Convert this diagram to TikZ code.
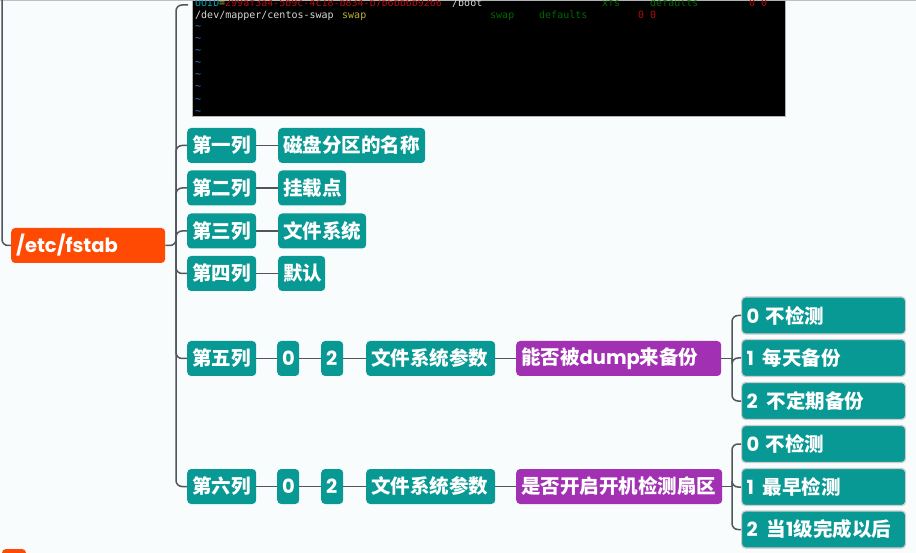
\documentclass[tikz,border=0pt]{standalone}
\usepackage{fontspec}
\setmainfont{Poppins}
\newfontfamily\zhfont{Noto Sans CJK SC}
\newfontfamily\termfont{DejaVu Sans Mono}
\usetikzlibrary{positioning}
\definecolor{mapbg}{RGB}{249,252,253}
\definecolor{fstabred}{RGB}{254,74,2}
\definecolor{colteal}{RGB}{8,153,148}
\definecolor{askpurple}{RGB}{161,48,178}
\definecolor{linegray}{RGB}{80,86,92}
\definecolor{termcyan}{RGB}{0,160,170}
\definecolor{termred}{RGB}{175,12,12}
\definecolor{termgreen}{RGB}{0,105,0}
\definecolor{termyellow}{RGB}{190,180,50}
\definecolor{termwhite}{RGB}{215,215,215}
\definecolor{termblue}{RGB}{45,120,205}
\newcommand{\zh}[1]{{\zhfont #1}}
\tikzset{
  box/.style={rectangle, rounded corners=4pt, anchor=west, minimum height=35pt, inner xsep=5pt, inner ysep=0pt, align=left, text=white, font=\fontsize{19.5}{22}\selectfont\bfseries},
  rootbox/.style={box, fill=fstabred},
  colbox/.style={box, fill=colteal},
  askbox/.style={box, fill=askpurple},
  ansbox/.style={box, fill=colteal, draw=gray!40, line width=1.2pt, minimum height=37pt},
  conn/.style={draw=linegray, line width=1.5pt, rounded corners=6pt},
  tt/.style={font=\termfont\fontsize{10}{12}\selectfont, inner sep=0pt, anchor=base west},
}

\begin{document}
\begin{tikzpicture}[x=1pt, y=-1pt]
  \useasboundingbox (0,0) rectangle (916,553);
  \fill[mapbg] (0,0) rectangle (916,553);
  \draw[gray!50, line width=1pt] (0,0.5) -- (916,0.5);

  % Terminal screenshot
  \node[fill=black, draw=gray!60, anchor=north west, inner sep=0pt, minimum width=593pt, minimum height=116pt] (term) at (192,0) {};
  \begin{scope}
    \clip (192,0) rectangle (785,116);
    \node[tt, text=termcyan] (uuid) at (195,6.5) {UUID};
    \node[tt, text=termyellow] (eq) at (219,6.5) {=};
    \node[tt, text=termred] (uuidval) at (225,6.5) {299af3a4-5b9c-4c18-b834-b7b6bb6b9266};
    \node[tt, text=termwhite] (boot) at (452,6.5) {/boot};
    \node[tt, text=termgreen] (xfs) at (602,6.5) {xfs};
    \node[tt, text=termgreen] (defa) at (650,6.5) {defaults};
    \node[tt, text=termred] (nulla) at (749,6.5) {0 0};
    \node[tt, text=termwhite] (swapdev) at (195,18.5) {/dev/mapper/centos-swap};
    \node[tt, text=termyellow] (swapmnt) at (342,18.5) {swap};
    \node[tt, text=termgreen] (swapfs) at (490,18.5) {swap};
    \node[tt, text=termgreen] (defb) at (539,18.5) {defaults};
    \node[tt, text=termred] (nullb) at (638,18.5) {0 0};
    \foreach \k in {0,...,7}
      \node[tt, text=termblue] (tilde\k) at (195,29.5+12.1*\k) {\textasciitilde};
  \end{scope}

  % Root
  \node[rootbox, text width=144pt] (fstab) at (11,245.5) {/etc/fstab};
  \fill[fstabred, rounded corners=4pt] (2,549) rectangle (26,575);

  % Columns 1-4
  \node[colbox, text width=59pt] (col1) at (187,145.5) {\zh{第一列}};
  \node[colbox, text width=59pt] (col2) at (187,188) {\zh{第二列}};
  \node[colbox, text width=59pt] (col3) at (187,231) {\zh{第三列}};
  \node[colbox, text width=59pt] (col4) at (187,273.5) {\zh{第四列}};
  \node[colbox, text width=137pt] (name1) at (278,145.5) {\zh{磁盘分区的名称}};
  \node[colbox, text width=58pt] (name2) at (278,188) {\zh{挂载点}};
  \node[colbox, text width=78pt] (name3) at (278,231) {\zh{文件系统}};
  \node[colbox, text width=37pt] (name4) at (278,273.5) {\zh{默认}};

  % Column 5
  \node[colbox, text width=59pt] (col5) at (187,358.5) {\zh{第五列}};
  \node[colbox, text width=12pt] (zero5) at (277,358.5) {0};
  \node[colbox, text width=12pt] (two5) at (321,358.5) {2};
  \node[colbox, text width=119pt] (param5) at (366,358.5) {\zh{文件系统参数}};
  \node[askbox, text width=195pt] (ask5) at (516,358.5) {\zh{能否被}dump\zh{来备份}};
  \node[ansbox, text width=154pt] (ans50) at (741,315.5) {0 \zh{不检测}};
  \node[ansbox, text width=154pt] (ans51) at (741,358) {1\hspace{9pt}\zh{每天备份}};
  \node[ansbox, text width=154pt] (ans52) at (741,401) {2\hspace{9pt}\zh{不定期备份}};

  % Column 6
  \node[colbox, text width=59pt] (col6) at (187,486.5) {\zh{第六列}};
  \node[colbox, text width=12pt] (zero6) at (277,486.5) {0};
  \node[colbox, text width=12pt] (two6) at (321,486.5) {2};
  \node[colbox, text width=119pt] (param6) at (366,486.5) {\zh{文件系统参数}};
  \node[askbox, text width=196pt] (ask6) at (516,486.5) {\zh{是否开启开机检测扇区}};
  \node[ansbox, text width=154pt] (ans60) at (741,444) {0 \zh{不检测}};
  \node[ansbox, text width=154pt] (ans61) at (741,487) {1\hspace{9pt}\zh{最早检测}};
  \node[ansbox, text width=154pt] (ans62) at (741,529.5) {2\hspace{9pt}\zh{当}1\zh{级完成以后}};

  % Connectors
  \coordinate (upleft) at (2,-2);
  \coordinate (trunk) at (176,245.5);
  \coordinate (termjoin) at (188,5);
  \coordinate (fork5) at (732,358.5);
  \coordinate (fork6) at (732,486.5);
  \draw[conn] (upleft) |- (fstab.west);
  \draw[conn] (fstab.east) -- (trunk) |- (termjoin);
  \foreach \c in {col1,col2,col3,col4,col5,col6}
    \draw[conn] (trunk) |- (\c.west);
  \foreach \i in {1,2,3,4}
    \draw[conn] (col\i.east) -- (name\i.west);
  \foreach \r in {5,6} {
    \draw[conn] (col\r.east) -- (zero\r.west);
    \draw[conn] (zero\r.east) -- (two\r.west);
    \draw[conn] (two\r.east) -- (param\r.west);
    \draw[conn] (param\r.east) -- (ask\r.west);
    \draw[conn] (ask\r.east) -- (fork\r);
    \foreach \a in {0,1,2}
      \draw[conn] (fork\r) |- (ans\r\a.west);
  }
\end{tikzpicture}
\end{document}
